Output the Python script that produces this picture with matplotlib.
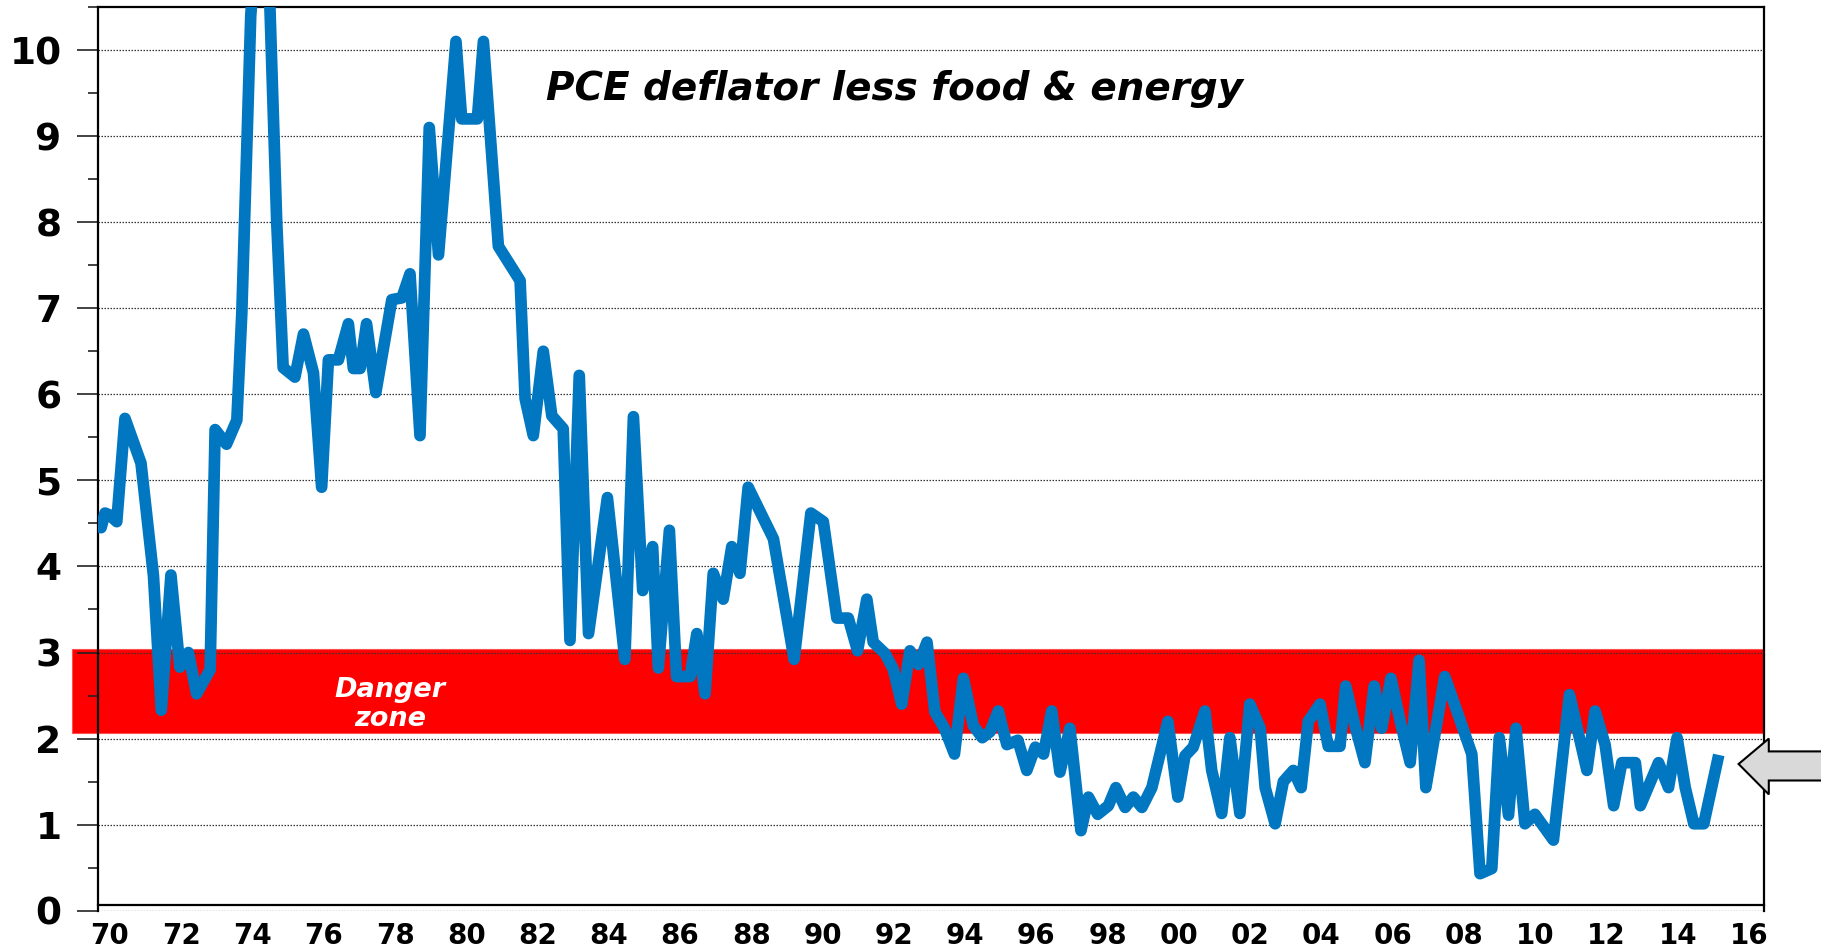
import matplotlib
matplotlib.use("Agg")
import matplotlib.pyplot as plt
from matplotlib.patches import Polygon
from matplotlib.ticker import MultipleLocator

# ---------------- data ----------------
years = [
    1969.67, 1969.75, 1969.86, 1969.98, 1970.19, 1970.42, 1970.87, 1971.22, 1971.44, 1971.71,
    1971.96, 1972.20, 1972.43, 1972.81, 1972.95, 1973.27, 1973.56, 1973.70, 1973.95, 1974.20,
    1974.45, 1974.68, 1974.86, 1975.19, 1975.43, 1975.71, 1975.94, 1976.13, 1976.41, 1976.69,
    1976.83, 1977.02, 1977.20, 1977.46, 1977.91, 1978.19, 1978.42, 1978.70, 1978.96, 1979.22,
    1979.71, 1979.87, 1980.31, 1980.48, 1980.90, 1981.51, 1981.65, 1981.88, 1982.16, 1982.40,
    1982.72, 1982.91, 1983.17, 1983.43, 1983.96, 1984.45, 1984.69, 1984.95, 1985.23, 1985.39,
    1985.70, 1985.90, 1986.28, 1986.47, 1986.70, 1986.93, 1987.21, 1987.45, 1987.68, 1987.91,
    1988.62, 1989.20, 1989.67, 1990.02, 1990.40, 1990.72, 1990.98, 1991.24, 1991.42, 1991.75,
    1991.98, 1992.22, 1992.45, 1992.69, 1992.93, 1993.15, 1993.42, 1993.70, 1993.95, 1994.23,
    1994.48, 1994.70, 1994.93, 1995.17, 1995.48, 1995.73, 1995.97, 1996.20, 1996.43, 1996.66,
    1996.94, 1997.25, 1997.46, 1997.72, 1998.02, 1998.23, 1998.49, 1998.72, 1998.96, 1999.24,
    1999.69, 1999.97, 2000.17, 2000.40, 2000.73, 2000.92, 2001.20, 2001.43, 2001.71, 2001.99,
    2002.28, 2002.42, 2002.70, 2002.93, 2003.21, 2003.43, 2003.63, 2003.96, 2004.19, 2004.52,
    2004.68, 2004.94, 2005.22, 2005.48, 2005.69, 2005.95, 2006.21, 2006.49, 2006.74, 2006.93,
    2007.46, 2007.75, 2008.22, 2008.45, 2008.78, 2008.99, 2009.25, 2009.46, 2009.71, 2009.99,
    2010.51, 2010.96, 2011.45, 2011.68, 2011.96, 2012.20, 2012.43, 2012.81, 2012.95, 2013.46,
    2013.74, 2013.98, 2014.21, 2014.45, 2014.73, 2015.15,
]
values = [
    4.48, 4.45, 4.62, 4.60, 4.52, 5.72, 5.20, 3.89, 2.33, 3.90,
    2.83, 3.00, 2.52, 2.80, 5.59, 5.42, 5.70, 6.95, 10.40, 11.80,
    11.00, 7.99, 6.31, 6.20, 6.70, 6.25, 4.92, 6.40, 6.40, 6.82,
    6.30, 6.30, 6.82, 6.02, 7.10, 7.12, 7.40, 5.52, 9.10, 7.62,
    10.10, 9.20, 9.20, 10.10, 7.72, 7.32, 5.95, 5.52, 6.50, 5.75,
    5.60, 3.14, 6.22, 3.22, 4.80, 2.92, 5.74, 3.72, 4.23, 2.82,
    4.42, 2.72, 2.72, 3.22, 2.52, 3.92, 3.62, 4.23, 3.92, 4.92,
    4.32, 2.92, 4.62, 4.52, 3.40, 3.40, 3.02, 3.62, 3.12, 2.99,
    2.81, 2.40, 3.02, 2.86, 3.12, 2.31, 2.12, 1.82, 2.70, 2.15,
    2.01, 2.08, 2.32, 1.93, 1.98, 1.63, 1.90, 1.82, 2.32, 1.61,
    2.12, 0.93, 1.32, 1.12, 1.22, 1.43, 1.20, 1.32, 1.20, 1.43,
    2.20, 1.32, 1.80, 1.90, 2.32, 1.63, 1.13, 2.01, 1.13, 2.40,
    2.12, 1.43, 1.01, 1.50, 1.63, 1.43, 2.20, 2.40, 1.91, 1.91,
    2.61, 2.15, 1.72, 2.61, 2.12, 2.70, 2.20, 1.72, 2.91, 1.43,
    2.72, 2.38, 1.82, 0.43, 0.49, 2.01, 1.11, 2.12, 1.01, 1.12,
    0.82, 2.51, 1.63, 2.32, 1.93, 1.22, 1.72, 1.72, 1.22, 1.72,
    1.43, 2.01, 1.43, 1.01, 1.01, 1.81,
]
x_ticks = list(range(1970, 2017, 2))
x_labels = [f"{y % 100:02d}" for y in x_ticks]
y_ticks = list(range(0, 11))
danger_low, danger_high = 2.07, 3.04
title = "PCE deflator less food & energy"
danger_label = ["Danger", "zone"]

# ---------------- figure ----------------
W, H, DPI = 1821, 951, 100
plt.rcParams["font.family"] = ["DejaVu Sans"]
plt.rcParams["font.weight"] = "bold"

fig = plt.figure(figsize=(W / DPI, H / DPI), dpi=DPI)
fig.patch.set_facecolor("white")


def fx(px):
    return px / W


def fy(py):
    return 1 - py / H


ax = fig.add_axes([fx(97.6), fy(910.7), fx(1764) - fx(97.6), fy(7) - fy(910.7)])
ax.set_xlim(1969.652, 2016.42)
ax.set_ylim(0, 10.5)

# danger band (extends a little left of the axis)
ax.axhspan(danger_low, danger_high, xmin=-0.0151, xmax=1.0, facecolor="#FF0000",
           edgecolor="#FF5050", lw=0.8, clip_on=False, zorder=1)

# gridlines
ax.set_axisbelow("line")
ax.set_yticks(y_ticks)
ax.yaxis.set_minor_locator(MultipleLocator(0.5))
ax.yaxis.grid(True, which="major", linestyle=(0, (1.2, 1.2)), color="#333333", lw=0.9)
ax.xaxis.grid(False)

# series
ax.plot(years, values, color="#0077C0", lw=8.4, solid_joinstyle="round",
        solid_capstyle="butt", zorder=3)

# spines
for s in ax.spines.values():
    s.set_linewidth(1.6)
    s.set_color("black")
ax.spines["bottom"].set_position(("data", 0.066))

# ticks
ax.set_xticks(x_ticks)
ax.set_xticklabels(x_labels)
ax.tick_params(axis="x", which="both", length=0, pad=12, labelsize=20)
ax.tick_params(axis="y", which="major", direction="out", length=15, width=1.2,
               pad=11, labelsize=27, color="#222222")
ax.tick_params(axis="y", which="minor", direction="out", length=7, width=1.2,
               color="#222222")
for lab in ax.get_xticklabels() + ax.get_yticklabels():
    lab.set_fontweight("heavy")

# texts
fig.text(fx(895), fy(100), title, ha="center", va="baseline", fontsize=28,
         fontweight="heavy", style="italic", color="black")
fig.text(fx(390), fy(697), danger_label[0], ha="center", va="baseline", fontsize=19.5,
         fontweight="heavy", style="italic", color="white")
fig.text(fx(390), fy(726), danger_label[1], ha="center", va="baseline", fontsize=19.5,
         fontweight="heavy", style="italic", color="white")

# grey arrow on the right
arrow_px = [(1738.6, 764), (1768.8, 738.6), (1768.8, 751.4), (1823, 751.4),
            (1823, 780.5), (1768.8, 780.5), (1768.8, 794.4)]
arrow = Polygon([(fx(x), fy(y)) for x, y in arrow_px], closed=True,
                transform=fig.transFigure, facecolor="#D9D9D9", edgecolor="black",
                lw=1.5, clip_on=False)
fig.add_artist(arrow)

fig.savefig("out.png", dpi=DPI, facecolor="white")
